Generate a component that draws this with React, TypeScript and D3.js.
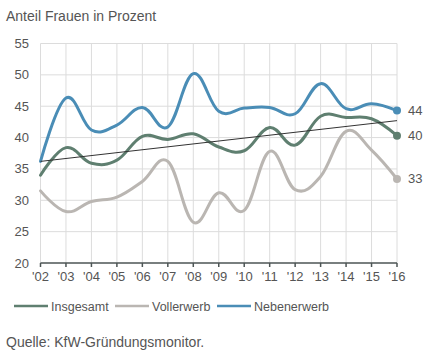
import React from "react";
import * as d3 from "d3";

const years = ["'02","'03","'04","'05","'06","'07","'08","'09","'10","'11","'12","'13","'14","'15","'16"];
const insgesamt = [34.0, 38.4, 35.9, 36.4, 40.2, 39.7, 40.6, 38.5, 37.9, 41.6, 38.8, 43.4, 43.2, 43.0, 40.3];
const vollerwerb = [31.5, 28.2, 29.8, 30.5, 33.0, 36.2, 26.5, 31.2, 28.4, 37.8, 31.7, 33.8, 41.0, 38.0, 33.4];
const nebenerwerb = [36.2, 46.3, 41.2, 42.0, 44.8, 41.7, 50.2, 44.2, 44.7, 44.8, 43.8, 48.6, 44.6, 45.4, 44.3];
const trend = [36.2, 42.7];
const yTicks = [20, 25, 30, 35, 40, 45, 50, 55];
const endLabels = ["40", "33", "44"];
const seriesNames = ["Insgesamt", "Vollerwerb", "Nebenerwerb"];
const colors = ["#5f7f70", "#bab6b2", "#4a8db6"];

export default function App() {
  const W = 440, H = 358;
  const left = 40.5, right = 397, top = 43.5, bottom = 263;
  const x = d3.scalePoint<string>().domain(years).range([left, right]);
  const y = d3.scaleLinear().domain([20, 55]).range([bottom, top]);
  const line = d3.line<number>()
    .x((_, i) => x(years[i])!)
    .y((d) => y(d))
    .curve(d3.curveCardinal.tension(-0.15));
  const data = [insgesamt, vollerwerb, nebenerwerb];
  const font = "'Liberation Sans', Arial, Helvetica, sans-serif";
  const txt = "#555";
  const legendX = [14, 115, 217];
  return (
    <svg width={W} height={H} style={{ position: "absolute", left: 0, top: 0, fontFamily: font }}>
      <rect width={W} height={H} fill="#fff" />
      <text x={6} y={21} fontSize={14} fill={txt}>Anteil Frauen in Prozent</text>
      {yTicks.map((t) => (
        <g key={t}>
          {t > 20 && <line x1={left} x2={right} y1={y(t)} y2={y(t)} stroke="#dcdcdc" strokeWidth={1} />}
          <text x={29} y={y(t) + 4.5} fontSize={13} fill={txt} textAnchor="end">{t}</text>
        </g>
      ))}
      {years.map((yr) => (
        <g key={yr}>
          <line x1={x(yr)} x2={x(yr)} y1={top} y2={bottom} stroke="#dcdcdc" strokeWidth={1} />
          <line x1={x(yr)} x2={x(yr)} y1={bottom} y2={bottom + 4} stroke="#4d5555" strokeWidth={1.5} />
          <text x={x(yr)} y={bottom + 18} fontSize={13} fill={txt} textAnchor="middle">{yr}</text>
        </g>
      ))}
      <line x1={left} x2={right} y1={bottom} y2={bottom} stroke="#4d5555" strokeWidth={1.5} />
      {data.map((s, i) => (
        <path key={i} d={line(s)!} fill="none" stroke={colors[i]} strokeWidth={3} strokeLinecap="round" />
      ))}
      <line x1={x(years[0])} x2={x(years[years.length - 1])} y1={y(trend[0])} y2={y(trend[1])} stroke="#333" strokeWidth={1} />
      {data.map((s, i) => (
        <g key={i}>
          <circle cx={x(years[years.length - 1])} cy={y(s[s.length - 1])} r={4} fill={colors[i]} />
          <text x={408} y={y(s[s.length - 1]) + 4.5} fontSize={13} fill={txt}>{endLabels[i]}</text>
        </g>
      ))}
      {seriesNames.map((n, i) => (
        <g key={n}>
          <line x1={legendX[i]} x2={legendX[i] + 34} y1={306} y2={306} stroke={colors[i]} strokeWidth={2.5} />
          <text x={legendX[i] + 37} y={310.5} fontSize={12.5} fill={txt}>{n}</text>
        </g>
      ))}
      <text x={6} y={347} fontSize={14} fill={txt}>Quelle: KfW-Gründungsmonitor.</text>
    </svg>
  );
}
